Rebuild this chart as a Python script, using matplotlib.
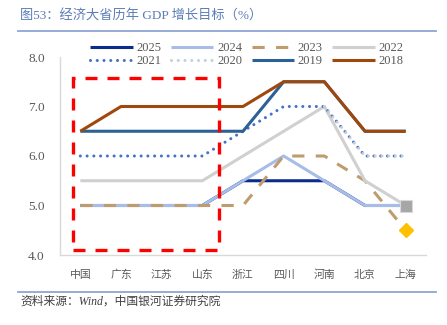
import numpy as np
import matplotlib
matplotlib.use("Agg")
import matplotlib.pyplot as plt
from matplotlib.patches import Rectangle
from matplotlib.lines import Line2D

# provinces along the x axis
provinces = ["中国", "广东", "江苏", "山东", "浙江", "四川", "河南", "北京", "上海"]

# GDP growth targets by year (%)
g2025 = [5.0, 5.0, 5.0, 5.0, 5.5, 5.5, 5.5, 5.0, 5.0]
g2024 = [5.0, 5.0, 5.0, 5.0, 5.5, 6.0, 5.5, 5.0, 5.0]
g2023 = [5.0, 5.0, 5.0, 5.0, 5.0, 6.0, 6.0, 5.5, 4.5]
g2022 = [5.5, 5.5, 5.5, 5.5, 6.0, 6.5, 7.0, 5.5, 5.0]
g2021 = [6.0, 6.0, 6.0, 6.0, 6.5, 7.0, 7.0, 6.0, 6.0]
g2020 = [np.nan, np.nan, np.nan, np.nan, np.nan, np.nan, 7.0, 6.0, 6.0]
g2019 = [6.5, 6.5, 6.5, 6.5, 6.5, 7.5, 7.5, 6.5, 6.5]
g2018 = [6.5, 7.0, 7.0, 7.0, 7.0, 7.5, 7.5, 6.5, 6.5]

years = ["2025", "2024", "2023", "2022", "2021", "2020", "2019", "2018"]
series = [g2025, g2024, g2023, g2022, g2021, g2020, g2019, g2018]

# line styles per year
styles = {
    "2025": dict(color="#0B2C8C", ls="-", cap="butt"),
    "2024": dict(color="#A7BCE6", ls="-", cap="butt"),
    "2023": dict(color="#BF9C6E", ls=(0, (4, 3.7)), cap="butt"),
    "2022": dict(color="#D0D0D0", ls="-", cap="butt"),
    "2021": dict(color="#4472C4", ls=(0, (0.01, 2.2)), cap="round"),
    "2020": dict(color="#C8CDD6", ls=(0, (0.01, 2.2)), cap="round"),
    "2019": dict(color="#2B6195", ls="-", cap="butt"),
    "2018": dict(color="#9E480E", ls="-", cap="butt"),
}

cjk = ["Noto Sans CJK SC", "DejaVu Sans"]
mixed = ["Liberation Serif", "Noto Sans CJK SC", "DejaVu Sans"]
grey_txt = "#595959"

fig = plt.figure(figsize=(4.47, 3.25), dpi=100)
ax = fig.add_axes([60 / 447, 70 / 325, 366 / 447, 198 / 325])

x = np.arange(len(provinces))
handles = []
for yr, vals in zip(years, series):
    st = styles[yr]
    h, = ax.plot(x, vals, color=st["color"], linestyle=st["ls"], lw=2.2,
                 solid_capstyle="butt", dash_capstyle=st["cap"], label=yr)
    handles.append(h)

# end-point markers for Shanghai
ax.plot(x[-1], g2022[-1], "s", ms=8.5, color="#A6A6A6", mec="#D9D9D9", mew=0.8, zorder=5)
ax.plot(x[-1], g2023[-1], "D", ms=7, color="#FFC000", mec="#FFC000", zorder=5)

# highlight box around the national and first three provinces
box = Rectangle((-0.17, 4.1), 3.57, 3.48, fill=False, edgecolor="#FF0000",
                lw=2.4, linestyle=(0, (3.6, 3.0)), clip_on=False, zorder=6)
ax.add_patch(box)

ax.set_xlim(-0.5, len(provinces) - 0.5)
ax.set_ylim(4, 8)
ax.set_yticks([4, 5, 6, 7, 8])
ax.set_yticklabels([f"{v:.1f}" for v in [4, 5, 6, 7, 8]],
                   family="Liberation Serif", fontsize=9.5, color=grey_txt)
ax.set_xticks(x)
ax.set_xticklabels(provinces, family=cjk, fontsize=7.8, color=grey_txt)
ax.tick_params(axis="both", length=0)
ax.tick_params(axis="x", pad=10.5)
ax.tick_params(axis="y", pad=11)
for side in ["top", "right"]:
    ax.spines[side].set_visible(False)
for side in ["left", "bottom"]:
    ax.spines[side].set_color("#D9D9D9")
    ax.spines[side].set_linewidth(1.0)

# legend laid out row by row
order = [0, 4, 1, 5, 2, 6, 3, 7]
leg = fig.legend([handles[i] for i in order], [years[i] for i in order],
                 ncol=4, loc="upper left", bbox_to_anchor=(84 / 447, 1 - 36 / 325),
                 frameon=False, borderpad=0, handlelength=3.4, handletextpad=0.3,
                 columnspacing=0.75, labelspacing=0.05,
                 prop=dict(family="Liberation Serif", size=9))
for t in leg.get_texts():
    t.set_color(grey_txt)

# title and rules
fig.text(20 / 447, 1 - 16 / 325, "图53：经济大省历年 GDP 增长目标（%）", family=mixed,
         fontsize=9.5, color="#5B7CB6", va="center", ha="left")
fig.add_artist(Line2D([18 / 447, 436 / 447], [1 - 31 / 325] * 2, color="#8EA6D6", lw=1.3))
fig.add_artist(Line2D([18 / 447, 436 / 447], [1 - 292 / 325] * 2, color="#8EA6D6", lw=1.3))
fig.text(20 / 447, 1 - 302 / 325, "资料来源：Wind，中国银河证券研究院", family=mixed,
         fontsize=8.5, color="#404040", va="center", ha="left", style="italic")

fig.savefig("out.png", dpi=100)
